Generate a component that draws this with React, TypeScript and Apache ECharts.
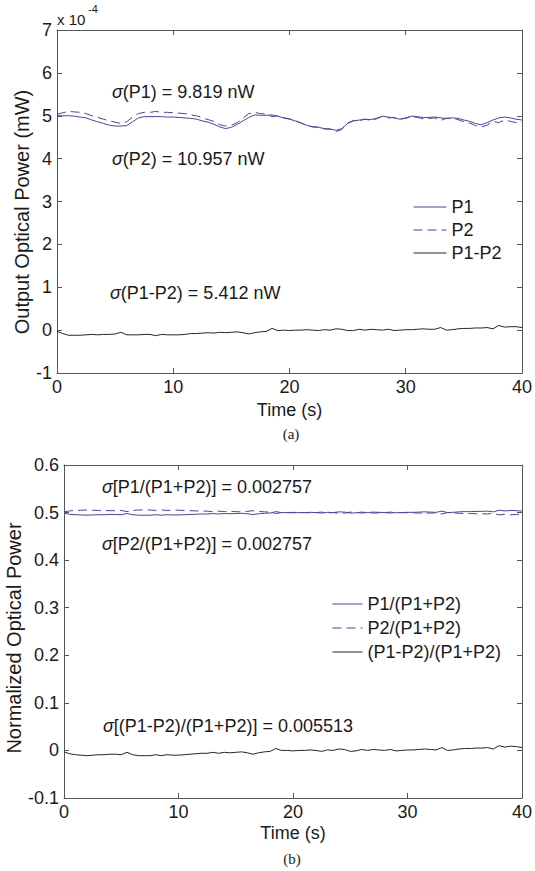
import React, { useEffect, useRef } from "react";
import * as echarts from "echarts";

// Sample times (s), one sample every 0.5 s
const TIME_S: number[] = Array.from({ length: 81 }, (_, i) => i * 0.5);
const X_MIN = 0;
const X_MAX = 40;
const X_STEP = 10;

// (a) Output optical power, in units of 1e-4 mW
const P1 = [
  5.0, 5.0, 5.0, 4.99, 4.97, 4.95, 4.9, 4.86, 4.82, 4.78,
  4.76, 4.76, 4.77, 4.86, 4.95, 4.98, 4.98, 4.98, 4.98, 4.97,
  4.97, 4.96, 4.95, 4.94, 4.92, 4.88, 4.85, 4.8, 4.74, 4.7,
  4.73, 4.8, 4.88, 4.96, 5.02, 5.01, 5.01, 5.02, 4.99, 4.95,
  4.92, 4.88, 4.83, 4.78, 4.74, 4.73, 4.7, 4.69, 4.66, 4.7,
  4.82, 4.88, 4.9, 4.92, 4.91, 4.94, 4.99, 4.97, 4.95, 4.92,
  4.95, 4.99, 4.98, 4.96, 4.96, 4.97, 4.95, 4.94, 4.95, 4.94,
  4.9, 4.87, 4.82, 4.79, 4.84, 4.9, 4.95, 4.97, 4.95, 4.92,
  4.9,
];
const P2 = [
  5.03, 5.07, 5.1, 5.09, 5.08, 5.05, 5.0, 4.96, 4.92, 4.88,
  4.85, 4.82, 4.86, 4.97, 5.05, 5.08, 5.08, 5.1, 5.08, 5.08,
  5.07, 5.06, 5.05, 5.02, 5.0, 4.95, 4.91, 4.87, 4.79, 4.76,
  4.78, 4.84, 4.94, 5.05, 5.08, 5.05, 5.04, 4.98, 5.0, 4.95,
  4.93, 4.88, 4.83, 4.77, 4.74, 4.74, 4.69, 4.69, 4.63, 4.68,
  4.83, 4.89, 4.88, 4.92, 4.89, 4.93, 4.99, 4.95, 4.96, 4.92,
  4.94, 4.98, 4.96, 4.93, 4.94, 4.95, 4.89, 4.94, 4.94, 4.91,
  4.86, 4.83, 4.77, 4.74, 4.78, 4.87, 4.84, 4.9, 4.87, 4.84,
  4.84,
];
const P1_MINUS_P2 = [
  -0.03, -0.08, -0.12, -0.12, -0.12, -0.11, -0.1, -0.11, -0.1, -0.1,
  -0.09, -0.05, -0.11, -0.11, -0.11, -0.1, -0.1, -0.13, -0.1, -0.11,
  -0.11, -0.11, -0.1, -0.08, -0.08, -0.07, -0.06, -0.07, -0.05, -0.06,
  -0.05, -0.04, -0.06, -0.09, -0.06, -0.04, -0.03, 0.04, -0.01, 0.0,
  -0.01, 0.0, 0.0, 0.01, 0.0, -0.01, 0.01, 0.0, 0.03, 0.02,
  -0.01, -0.01, 0.02, 0.0, 0.02, 0.01, 0.0, 0.02, -0.01, 0.0,
  0.01, 0.01, 0.02, 0.03, 0.02, 0.02, 0.06, 0.0, 0.01, 0.03,
  0.04, 0.04, 0.05, 0.05, 0.06, 0.03, 0.11, 0.07, 0.08, 0.08,
  0.06,
];

// (b) Normalized optical power
const N1 = [
  0.4985, 0.4965, 0.4955, 0.495, 0.4945, 0.495, 0.4955, 0.4955, 0.496, 0.496,
  0.4955, 0.498, 0.4955, 0.4945, 0.4945, 0.4945, 0.4955, 0.4945, 0.4955, 0.495,
  0.495, 0.4955, 0.496, 0.4965, 0.497, 0.497, 0.498, 0.497, 0.498, 0.4975,
  0.498, 0.4985, 0.4975, 0.496, 0.4975, 0.4985, 0.499, 0.502, 0.5, 0.5,
  0.4995, 0.5, 0.5, 0.5005, 0.5, 0.499, 0.5005, 0.5, 0.5015, 0.501,
  0.499, 0.4995, 0.501, 0.5, 0.501, 0.5005, 0.5, 0.501, 0.4995, 0.5,
  0.5005, 0.5005, 0.501, 0.5015, 0.501, 0.5005, 0.503, 0.5, 0.5005, 0.5015,
  0.502, 0.502, 0.5025, 0.5025, 0.503, 0.5015, 0.505, 0.5035, 0.5045, 0.504,
  0.503,
];
const N2 = [
  0.5015, 0.5035, 0.5045, 0.505, 0.5055, 0.505, 0.5045, 0.5045, 0.504, 0.504,
  0.5045, 0.502, 0.5045, 0.5055, 0.5055, 0.5055, 0.5045, 0.5055, 0.5045, 0.505,
  0.505, 0.5045, 0.504, 0.5035, 0.503, 0.503, 0.502, 0.503, 0.502, 0.5025,
  0.502, 0.5015, 0.5025, 0.504, 0.5025, 0.5015, 0.501, 0.498, 0.5, 0.5,
  0.5005, 0.5, 0.5, 0.4995, 0.5, 0.501, 0.4995, 0.5, 0.4985, 0.499,
  0.501, 0.5005, 0.499, 0.5, 0.499, 0.4995, 0.5, 0.499, 0.5005, 0.5,
  0.4995, 0.4995, 0.499, 0.4985, 0.499, 0.4995, 0.497, 0.5, 0.4995, 0.4985,
  0.498, 0.498, 0.4975, 0.4975, 0.497, 0.4985, 0.495, 0.4965, 0.4955, 0.496,
  0.497,
];
const ND = [
  -0.003, -0.007, -0.009, -0.01, -0.011, -0.01, -0.009, -0.009, -0.008, -0.008,
  -0.009, -0.004, -0.009, -0.011, -0.011, -0.011, -0.009, -0.011, -0.009, -0.01,
  -0.01, -0.009, -0.008, -0.007, -0.006, -0.006, -0.004, -0.006, -0.004, -0.005,
  -0.004, -0.003, -0.005, -0.008, -0.005, -0.003, -0.002, 0.004, 0.0, 0.0,
  -0.001, 0.0, 0.0, 0.001, 0.0, -0.002, 0.001, 0.0, 0.003, 0.002,
  -0.002, -0.001, 0.002, 0.0, 0.002, 0.001, 0.0, 0.002, -0.001, 0.0,
  0.001, 0.001, 0.002, 0.003, 0.002, 0.001, 0.006, 0.0, 0.001, 0.003,
  0.004, 0.004, 0.005, 0.005, 0.006, 0.003, 0.01, 0.007, 0.009, 0.008,
  0.006,
];

const Y_A = { min: -1, max: 7, interval: 1 };
const Y_B = { min: -0.1, max: 0.6, interval: 0.1 };

const LEGEND_A = ["P1", "P2", "P1-P2"];
const LEGEND_B = ["P1/(P1+P2)", "P2/(P1+P2)", "(P1-P2)/(P1+P2)"];

const ANNOT_A = [
  { sym: "σ", rest: "(P1) = 9.819 nW", x: 112, y: 92 },
  { sym: "σ", rest: "(P2) = 10.957 nW", x: 112, y: 159 },
  { sym: "σ", rest: "(P1-P2) = 5.412 nW", x: 110, y: 293 },
];
const ANNOT_B = [
  { sym: "σ", rest: "[P1/(P1+P2)] = 0.002757", x: 102, y: 487 },
  { sym: "σ", rest: "[P2/(P1+P2)] = 0.002757", x: 102, y: 544 },
  { sym: "σ", rest: "[(P1-P2)/(P1+P2)] = 0.005513", x: 103, y: 726 },
];

const FONT = '"Liberation Sans", Arial, sans-serif';
const SERIF = '"Liberation Serif", "Times New Roman", serif';
const AX = "#555";
const TXT = "#1a1a1a";
const BLUE = "#4646a8";
const BLACK = "#262626";

function zip(ys: number[]) {
  return TIME_S.map((t, i) => [t, ys[i]]);
}

function xAxes(grid: number, nameGap: number) {
  const common = {
    gridIndex: grid,
    type: "value" as const,
    min: X_MIN,
    max: X_MAX,
    interval: X_STEP,
    splitLine: { show: false },
    axisLine: { show: true, onZero: false, lineStyle: { color: AX, width: 1 } },
    axisTick: { show: true, inside: true, length: 5, lineStyle: { color: AX } },
  };
  return [
    {
      ...common,
      position: "bottom",
      axisLabel: { fontSize: 18, color: TXT, margin: 5, fontFamily: FONT },
      name: "Time (s)",
      nameLocation: "middle",
      nameGap,
      nameTextStyle: { fontSize: 18, color: TXT, fontFamily: FONT },
    },
    { ...common, position: "top", axisLabel: { show: false } },
  ];
}

function yAxes(grid: number, r: { min: number; max: number; interval: number }) {
  const common = {
    gridIndex: grid,
    type: "value" as const,
    min: r.min,
    max: r.max,
    interval: r.interval,
    splitLine: { show: false },
    axisLine: { show: true, onZero: false, lineStyle: { color: AX, width: 1 } },
    axisTick: { show: true, inside: true, length: 5, lineStyle: { color: AX } },
  };
  return [
    {
      ...common,
      position: "left",
      axisLabel: {
        fontSize: 18,
        color: TXT,
        margin: 5,
        fontFamily: FONT,
        formatter: (v: number) => String(Math.round(v * 1000) / 1000),
      },
    },
    { ...common, position: "right", axisLabel: { show: false } },
  ];
}

function annot(a: { sym: string; rest: string; x: number; y: number }) {
  return {
    type: "text",
    x: a.x,
    y: a.y,
    style: {
      text: `{i|${a.sym}}${a.rest}`,
      fontSize: 18,
      fontFamily: FONT,
      fill: TXT,
      verticalAlign: "middle",
      rich: {
        i: { fontStyle: "italic", fontSize: 18, fontFamily: FONT, fill: TXT },
      },
    },
  };
}

const legendBase = {
  orient: "vertical",
  itemHeight: 18,
  selectedMode: false,
  itemStyle: { opacity: 0, borderWidth: 0 },
  lineStyle: { width: 1 },
  textStyle: { fontSize: 18, color: TXT, fontFamily: FONT },
};

export default function App() {
  const ref = useRef<HTMLDivElement>(null);
  useEffect(() => {
    if (!ref.current) return;
    const chart = echarts.init(ref.current, undefined, { renderer: "svg" });
    const line = (
      name: string,
      data: number[],
      color: string,
      dashed: boolean,
      axis: number
    ) => ({
      type: "line",
      name,
      data: zip(data),
      xAxisIndex: axis,
      yAxisIndex: axis,
      showSymbol: false,
      symbol: "none",
      silent: true,
      itemStyle: { color },
      lineStyle: { color, width: 1, type: dashed ? [9, 5] : "solid" },
    });
    chart.setOption({
      animation: false,
      backgroundColor: "#fff",
      grid: [
        { left: 57, top: 30, width: 468, height: 343 },
        { left: 64, top: 465, width: 458, height: 333 },
      ],
      xAxis: [...xAxes(0, 28), ...xAxes(1, 26)],
      yAxis: [...yAxes(0, Y_A), ...yAxes(1, Y_B)],
      legend: [
        { ...legendBase, data: LEGEND_A, left: 408, top: 193, itemWidth: 33, itemGap: 5 },
        { ...legendBase, data: LEGEND_B, left: 327, top: 590, itemWidth: 30, itemGap: 6 },
      ],
      series: [
        line("P1", P1, BLUE, false, 0),
        line("P2", P2, BLUE, true, 0),
        line("P1-P2", P1_MINUS_P2, BLACK, false, 0),
        line("P1/(P1+P2)", N1, BLUE, false, 2),
        line("P2/(P1+P2)", N2, BLUE, true, 2),
        line("(P1-P2)/(P1+P2)", ND, BLACK, false, 2),
      ],
      graphic: [
        ...ANNOT_A.map(annot),
        ...ANNOT_B.map(annot),
        {
          type: "text",
          x: 57,
          y: 19,
          style: { text: "x 10", fontSize: 15, fontFamily: FONT, fill: TXT, verticalAlign: "middle" },
        },
        {
          type: "text",
          x: 88,
          y: 9,
          style: { text: "-4", fontSize: 11, fontFamily: FONT, fill: TXT, verticalAlign: "middle" },
        },
        {
          type: "text",
          x: 22,
          y: 212,
          rotation: Math.PI / 2,
          style: {
            text: "Output Optical Power (mW)",
            fontSize: 20,
            fontFamily: FONT,
            fill: TXT,
            align: "center",
            verticalAlign: "middle",
          },
        },
        {
          type: "text",
          x: 14,
          y: 638,
          rotation: Math.PI / 2,
          style: {
            text: "Normalized Optical Power",
            fontSize: 20,
            fontFamily: FONT,
            fill: TXT,
            align: "center",
            verticalAlign: "middle",
          },
        },
        {
          type: "text",
          x: 291,
          y: 434,
          style: { text: "(a)", fontSize: 15, fontFamily: SERIF, fill: TXT, align: "center", verticalAlign: "middle" },
        },
        {
          type: "text",
          x: 292,
          y: 859,
          style: { text: "(b)", fontSize: 15, fontFamily: SERIF, fill: TXT, align: "center", verticalAlign: "middle" },
        },
      ],
    });
    return () => chart.dispose();
  }, []);
  return (
    <div
      ref={ref}
      style={{ position: "absolute", left: 0, top: 0, width: 535, height: 871, background: "#fff" }}
    />
  );
}
